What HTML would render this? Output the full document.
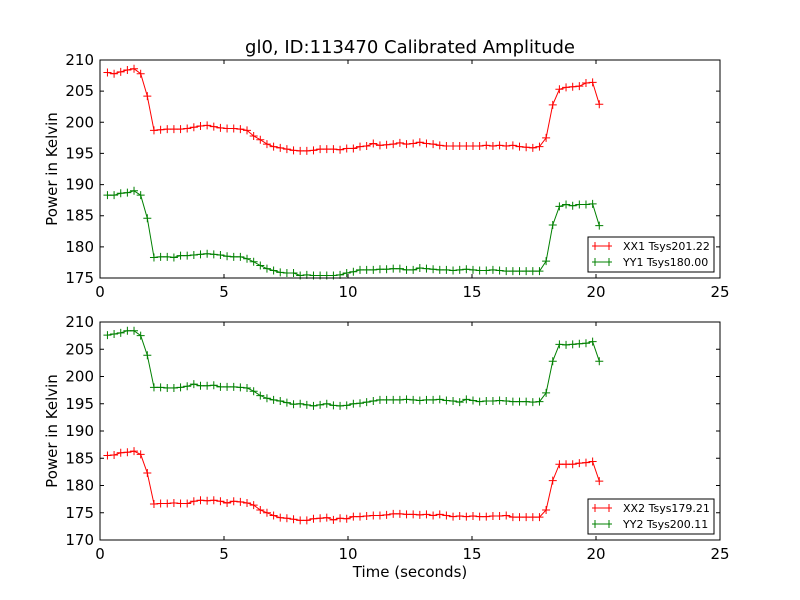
<!DOCTYPE html>
<html><head><meta charset="utf-8"><style>
body{margin:0;background:#fff;}
svg{display:block;font-family:"DejaVu Sans","Liberation Sans",sans-serif;}
</style></head><body>
<svg id="c" width="800" height="600" viewBox="0 0 800 600"></svg>
<script>
const xx1=[208.0,207.8,208.1,208.4,208.6,207.8,204.2,
198.7,198.8,198.9,198.9,198.9,199.0,199.2,199.4,199.5,199.3,199.1,199.0,199.0,198.9,198.7,
197.8,197.2,196.5,196.1,195.9,195.7,195.5,195.4,195.4,195.5,195.7,195.7,195.7,195.6,
195.8,195.8,196.1,196.2,196.6,196.3,196.4,196.5,196.7,196.5,196.6,196.8,196.6,196.5,
196.3,196.2,196.2,196.2,196.2,196.2,196.2,196.3,196.2,196.3,196.2,196.3,196.1,196.0,195.9,
196.1,197.5,202.8,205.3,205.6,205.7,205.8,206.3,206.4,202.9];
const yy1=[188.3,188.3,188.6,188.7,189.0,188.3,184.6,
178.3,178.4,178.4,178.3,178.6,178.6,178.7,178.8,178.9,178.8,178.7,178.5,178.4,178.4,178.1,
177.6,177.0,176.5,176.2,175.9,175.8,175.8,175.4,175.5,175.4,175.4,175.4,175.4,175.5,
175.8,176.0,176.3,176.3,176.3,176.4,176.4,176.5,176.5,176.3,176.3,176.6,176.5,176.4,
176.3,176.3,176.2,176.3,176.4,176.3,176.2,176.2,176.3,176.2,176.1,176.1,176.1,176.1,176.1,
176.1,177.7,183.5,186.5,186.8,186.6,186.8,186.8,186.9,183.4];
const xx2=[185.5,185.6,186.0,186.1,186.3,185.7,182.3,
176.6,176.7,176.7,176.8,176.7,176.7,177.1,177.3,177.2,177.3,177.1,176.8,177.1,177.0,176.8,
176.4,175.5,175.0,174.5,174.1,174.0,173.8,173.6,173.6,173.9,174.0,174.1,173.7,174.0,
173.9,174.3,174.3,174.4,174.5,174.5,174.6,174.8,174.8,174.7,174.7,174.6,174.7,174.5,
174.7,174.5,174.3,174.4,174.3,174.4,174.3,174.3,174.4,174.4,174.5,174.2,174.2,174.2,174.2,
174.2,175.5,180.9,183.9,183.9,183.9,184.1,184.2,184.4,180.8];
const yy2=[207.6,207.8,208.0,208.4,208.4,207.5,203.9,
198.0,198.0,197.9,197.9,198.0,198.2,198.6,198.3,198.3,198.4,198.1,198.1,198.1,198.0,197.9,
197.3,196.5,196.0,195.7,195.5,195.2,194.9,195.0,194.8,194.6,194.8,195.0,194.7,194.6,
194.7,195.0,195.1,195.3,195.5,195.7,195.7,195.7,195.7,195.8,195.7,195.6,195.7,195.7,
195.8,195.6,195.5,195.3,195.8,195.6,195.4,195.5,195.5,195.6,195.5,195.4,195.4,195.4,195.3,
195.4,197.0,202.8,205.9,205.8,205.9,206.0,206.1,206.4,202.8];
const tStart=0.3, tStep=0.268;
const xTicks=[0,5,10,15,20,25];
const yTicksTop=[175,180,185,190,195,200,205,210];
const yTicksBot=[170,175,180,185,190,195,200,205,210];
const legendTop=["XX1 Tsys201.22","YY1 Tsys180.00"];
const legendBot=["XX2 Tsys179.21","YY2 Tsys200.11"];

const svg=document.getElementById('c');
const NS='http://www.w3.org/2000/svg';
function mk(tag,attrs,parent){const e=document.createElementNS(NS,tag);for(const k in attrs)e.setAttribute(k,attrs[k]);(parent||svg).appendChild(e);return e;}
const X0=100,X1=720;
function xs(v){return X0+(v-0)/(25-0)*(X1-X0);}

function panel(name,top,bot,ymin,ymax,yTicks,s1,s2,leg,withXLabel){
  const g=mk('g',{});
  
  
  const ys=v=>bot-(v-ymin)/(ymax-ymin)*(bot-top);
  const series=[[s1,'#ff0000',leg[0]],[s2,'#008000',leg[1]]];
  series.forEach(([arr,col,lab],si)=>{
    const sg=mk('g',{},g);
    
    
    const pts=arr.map((v,i)=>[xs(tStart+i*tStep),ys(v)]);
    const pl=mk('polyline',{points:pts.map(p=>p[0].toFixed(1)+','+p[1].toFixed(1)).join(' '),fill:'none',stroke:col,'stroke-width':1},sg);
    
    
    pts.forEach(p=>{
      const m=mk('path',{d:`M${p[0]-4},${p[1]}h8M${p[0]},${p[1]-4}v8`,stroke:col,'stroke-width':1},sg);
      
      
    });
  });
  const fr=mk('rect',{x:X0,y:top,width:X1-X0,height:bot-top,fill:'none',stroke:'#000','stroke-width':1},g);
  
  
  xTicks.forEach(t=>{
    const x=xs(t);
    mk('path',{d:`M${x},${bot}v-4M${x},${top}v4`,stroke:'#000'},g);
    const tx=mk('text',{x:x,y:bot+19,'text-anchor':'middle','font-size':15},g);
    tx.textContent=t;
    
    
  });
  yTicks.forEach(t=>{
    const y=ys(t);
    mk('path',{d:`M${X0},${y}h4M${X1},${y}h-4`,stroke:'#000'},g);
    const tx=mk('text',{x:X0-6,y:y+5,'text-anchor':'end','font-size':15},g);
    tx.textContent=t;
    
    
  });
  const yl=mk('text',{x:57,y:(top+bot)/2,'text-anchor':'middle','font-size':15,transform:`rotate(-90 57 ${(top+bot)/2})`},g);
  yl.textContent='Power in Kelvin';
  
  
  // legend
  const lg=mk('g',{},g);
  
  
  const ly=bot-41;
  mk('rect',{x:588,y:ly,width:126,height:35,fill:'#fff',stroke:'#000','stroke-width':1},lg);
  series.forEach(([arr,col,lab],i)=>{
    const yy=ly+9+i*16;
    const e=mk('g',{},lg);
    
    
    mk('path',{d:`M592,${yy}h20M595,${yy-4}v8M609,${yy-4}v8`,stroke:col},e);
    const t=mk('text',{x:623,y:yy+4,'font-size':11},e);
    t.textContent=lab;
  });
}
const title=mk('text',{x:410,y:53,'text-anchor':'middle','font-size':18});
title.textContent='gl0, ID:113470 Calibrated Amplitude';


panel('top-panel',60,278,175,210,yTicksTop,xx1,yy1,legendTop,false);
panel('bottom-panel',322,540,170,210,yTicksBot,xx2,yy2,legendBot,true);
const xl=mk('text',{x:410,y:577,'text-anchor':'middle','font-size':15});
xl.textContent='Time (seconds)';


</script>
</body></html>
